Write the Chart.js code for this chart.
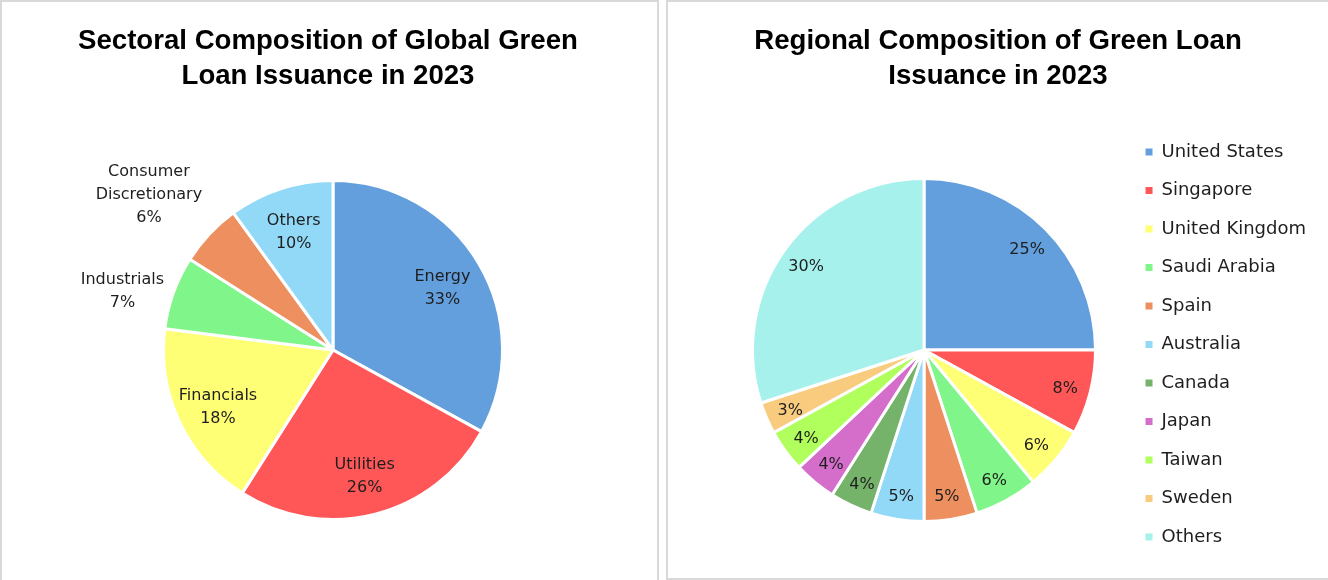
<!DOCTYPE html>
<html>
<head>
<meta charset="utf-8">
<script src="https://cdn.jsdelivr.net/npm/chart.js@4.4.1/dist/chart.umd.min.js"></script>
<style>
  html, body { margin: 0; padding: 0; background: #fff; overflow: hidden; }
  .panel { position: absolute; top: 0; border: 2px solid #d9d9d9; background: #fff; }
  #leftPanel { left: 0; width: 655px; height: 580px; }
  #rightPanel { left: 666px; width: 662px; height: 576px; }
  canvas { display: block; position: absolute; left: 0; top: 0; }
  .chart-title {
    position: absolute; left: 0; top: 20px; width: 660px;
    text-align: center; font-family: 'Liberation Sans', Arial, sans-serif;
    font-weight: bold; font-size: 27.6px; line-height: 35px; color: #000;
  }
</style>
</head>
<body>
<div class="panel" id="leftPanel">
  <canvas id="sectorChart" width="655" height="578"></canvas>
  <div class="chart-title" style="left:-4px">Sectoral Composition of Global Green<br>Loan Issuance in 2023</div>
</div>
<div class="panel" id="rightPanel">
  <canvas id="regionChart" width="660" height="576"></canvas>
  <div class="chart-title">Regional Composition of Green Loan<br>Issuance in 2023</div>
</div>
<script>
const sectorLabels = ['Energy', 'Utilities', 'Financials', 'Industrials', 'Consumer Discretionary', 'Others'];
const sectorValues = [33, 26, 18, 7, 6, 10];
const sectorColors = ['#629fdc', '#ff5757', '#ffff75', '#80f58a', '#ed8f5e', '#92d9f7'];

const regionLabels = ['United States', 'Singapore', 'United Kingdom', 'Saudi Arabia', 'Spain', 'Australia',
                      'Canada', 'Japan', 'Taiwan', 'Sweden', 'Others'];
const regionValues = [25, 8, 6, 6, 5, 5, 4, 4, 4, 3, 30];
const regionColors = ['#629fdc', '#ff5757', '#ffff75', '#80f58a', '#ed8f5e', '#92d9f7',
                      '#75b26a', '#d56ecb', '#b1ff5c', '#f9cb7f', '#a7f1ed'];

// percentage labels on (or next to) each slice
const sliceLabels = {
    id: 'sliceLabels',
    afterDatasetsDraw(chart, args, opts) {
        const ctx = chart.ctx;
        const meta = chart.getDatasetMeta(0);
        const values = chart.data.datasets[0].data;
        const lh = 23;
        ctx.save();
        ctx.font = '16px "DejaVu Sans"';
        ctx.fillStyle = '#1e1e1e';
        ctx.textAlign = 'center';
        ctx.textBaseline = 'middle';
        meta.data.forEach((arc, i) => {
            const p = arc.getProps(['x', 'y', 'startAngle', 'endAngle', 'outerRadius'], true);
            const mid = (p.startAngle + p.endAngle) / 2;
            const cos = Math.cos(mid), sin = Math.sin(mid);
            const lines = opts.showNames ? chart.data.labels[i].split(' ') : [];
            lines.push(values[i] + '%');
            const h = lines.length * lh;
            let cx, cy;
            if (values[i] < opts.outsideBelow) {
                // outside: box sits beside the slice, pushed away from the pie
                const w = Math.max(...lines.map(t => ctx.measureText(t).width));
                const ax = p.x + cos * (p.outerRadius + 10);
                const ay = p.y + sin * (p.outerRadius + 10);
                cx = ax + (Math.abs(cos) > 0.5 ? Math.sign(cos) * w / 2 : 0);
                cy = ay + (Math.abs(sin) > 0.5 ? Math.sign(sin) * h / 2 : 0) + 2;
            } else {
                cx = p.x + cos * p.outerRadius * opts.factor;
                cy = p.y + sin * p.outerRadius * opts.factor + 3;
            }
            lines.forEach((t, k) => ctx.fillText(t, cx, cy - h / 2 + lh / 2 + k * lh));
        });
        ctx.restore();
    }
};

new Chart(document.getElementById('sectorChart'), {
    type: 'pie',
    data: {
        labels: sectorLabels,
        datasets: [{
            data: sectorValues,
            backgroundColor: sectorColors,
            borderColor: '#ffffff',
            borderWidth: 3,
            radius: 169.5
        }]
    },
    options: {
        responsive: false,
        animation: false,
        layout: { padding: { left: 7, right: 0, top: 124, bottom: 6 } },
        plugins: {
            legend: { display: false },
            tooltip: { enabled: false },
            sliceLabels: { factor: 0.75, showNames: true, outsideBelow: 8 }
        }
    },
    plugins: [sliceLabels]
});

new Chart(document.getElementById('regionChart'), {
    type: 'pie',
    data: {
        labels: regionLabels,
        datasets: [{
            data: regionValues,
            backgroundColor: regionColors,
            borderColor: '#ffffff',
            borderWidth: 3,
            radius: 171.5
        }]
    },
    options: {
        responsive: false,
        animation: false,
        layout: { padding: { left: 55, right: 12, top: 124, bottom: 4 } },
        plugins: {
            legend: {
                position: 'right',
                fullSize: false,
                // empty title with negative height lifts the item column a little
                title: { display: true, text: '', padding: { top: 0, bottom: -21 }, font: { size: 10, lineHeight: 1 } },
                labels: {
                    boxWidth: 7,
                    boxHeight: 7,
                    padding: 20.5,
                    color: '#1e1e1e',
                    font: { family: 'DejaVu Sans', size: 18 },
                    generateLabels(chart) {
                        const items = Chart.overrides.pie.plugins.legend.labels.generateLabels(chart);
                        items.forEach(it => { it.lineWidth = 0; it.strokeStyle = it.fillStyle; });
                        return items;
                    }
                }
            },
            tooltip: { enabled: false },
            sliceLabels: { factor: 0.85, showNames: false, outsideBelow: 0 }
        }
    },
    plugins: [sliceLabels]
});
</script>
</body>
</html>
